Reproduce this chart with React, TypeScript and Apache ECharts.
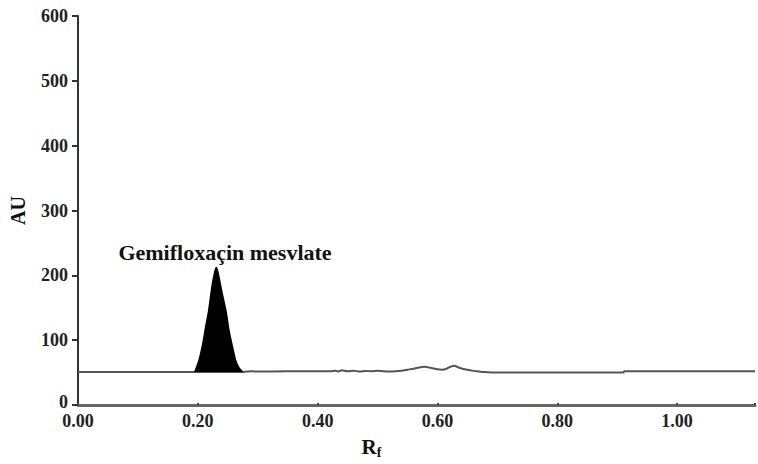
import React, { useEffect, useRef } from "react";
import * as echarts from "echarts";

// Densitogram trace (Rf vs AU)
const traceRf = [
  0.0, 0.19, 0.195, 0.275, 0.29, 0.3, 0.35, 0.4, 0.42, 0.43, 0.435, 0.44, 0.45, 0.46, 0.47, 0.48,
  0.49, 0.5, 0.51, 0.52, 0.53, 0.54, 0.55, 0.56, 0.57, 0.578, 0.59, 0.6, 0.608, 0.615, 0.622,
  0.628, 0.635, 0.645, 0.655, 0.665, 0.675, 0.69, 0.8, 0.91, 0.912, 1.13,
];
const traceAu = [
  51, 51, 51, 51, 52, 51.5, 52, 52, 52, 53, 51.5, 53.5, 52, 53, 51.5, 52.5,
  52, 53, 52, 51.5, 52, 53, 54.5, 56, 58, 59, 57, 55, 54.5, 56, 59,
  60.5, 58, 55, 53.5, 52, 51, 50, 50, 50, 52, 52,
];

// Gemifloxacin mesylate peak
const peakRf = [
  0.195, 0.202, 0.208, 0.213, 0.218, 0.224, 0.229, 0.231, 0.234, 0.24, 0.247, 0.252, 0.257,
  0.263, 0.269, 0.275,
];
const peakAu = [51, 69, 93, 120, 145, 185, 208, 212, 203, 175, 145, 115, 93, 69, 57, 51];

const peakLabel = "Gemifloxaçin mesvlate";
const baseline = 51;

const serif = "'Liberation Serif', 'DejaVu Serif', serif";

export default function App() {
  const ref = useRef<HTMLDivElement>(null);
  useEffect(() => {
    if (!ref.current) return;
    const chart = echarts.init(ref.current, undefined, { renderer: "svg" });
    chart.setOption({
      animation: false,
      backgroundColor: "#ffffff",
      grid: { left: 78, top: 16, right: 0, bottom: 56, containLabel: false },
      xAxis: {
        type: "value",
        min: 0,
        max: 1.13,
        interval: 0.2,
        name: "{r|R}{f|f}",
        nameLocation: "middle",
        nameGap: 30,
        nameTextStyle: {
          padding: [0, 90, 0, 0],
          rich: {
            r: { fontFamily: serif, fontWeight: "bold", fontSize: 21, color: "#111" },
            f: { fontFamily: serif, fontWeight: "bold", fontSize: 14, color: "#111", padding: [10, 0, 0, 0] },
          },
        },
        axisLine: { show: true, lineStyle: { color: "#666", width: 3 } },
        axisTick: { show: true, inside: true, length: 2, lineStyle: { color: "#444", width: 2 } },
        splitLine: { show: false },
        axisLabel: {
          fontFamily: serif,
          fontWeight: "bold",
          fontSize: 18,
          color: "#222",
          margin: 8,
          lineHeight: 16,
          formatter: (v: number) => {
            const r = Math.round(v * 100);
            return r % 20 === 0 ? (r / 100).toFixed(2) : "";
          },
        },
      },
      yAxis: {
        type: "value",
        min: 0,
        max: 600,
        interval: 100,
        name: "AU",
        nameLocation: "middle",
        nameGap: 50,
        nameTextStyle: { fontFamily: serif, fontWeight: "bold", fontSize: 20, color: "#111" },
        axisLine: { show: true, lineStyle: { color: "#333", width: 2 } },
        axisTick: { show: true, length: 6, lineStyle: { color: "#333", width: 2 } },
        splitLine: { show: false },
        axisLabel: {
          fontFamily: serif,
          fontWeight: "bold",
          fontSize: 18,
          color: "#222",
          margin: 10,
          lineHeight: 16,
          formatter: (v: number) => (v === 0 ? "{z|0}" : String(v)),
          rich: {
            z: { fontFamily: serif, fontWeight: "bold", fontSize: 18, color: "#222", lineHeight: 16, padding: [0, 0, 6, 0] },
          },
        },
      },
      series: [
        {
          type: "line",
          name: "trace",
          data: traceRf.map((x, i) => [x, traceAu[i]]),
          showSymbol: false,
          symbol: "none",
          smooth: 0.3,
          lineStyle: { color: "#555", width: 2 },
          z: 2,
        },
        {
          type: "line",
          name: "peak",
          data: peakRf.map((x, i) => [x, peakAu[i]]),
          showSymbol: false,
          symbol: "none",
          smooth: 0.2,
          lineStyle: { color: "#000", width: 1.5 },
          areaStyle: { color: "#000", opacity: 1, origin: baseline },
          z: 3,
        },
      ],
      graphic: [
        {
          type: "text",
          x: 225,
          y: 252,
          style: {
            text: peakLabel,
            fontFamily: serif,
            fontWeight: "bold",
            fontSize: 22,
            fill: "#111",
            textAlign: "center",
            textVerticalAlign: "middle",
          },
        },
      ],
    });
    return () => chart.dispose();
  }, []);
  return <div ref={ref} style={{ position: "fixed", left: 0, top: 0, width: 758, height: 464 }} />;
}
